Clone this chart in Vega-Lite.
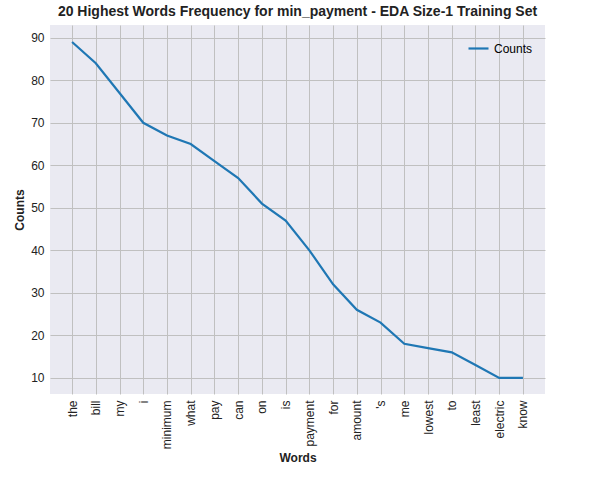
{"$schema":"https://vega.github.io/schema/vega-lite/v6.json","width":495,"height":369,"background":"white","padding":{"left":13,"top":5,"right":5,"bottom":5},
"title":{"text":"20 Highest Words Frequency for min_payment - EDA Size-1 Training Set","font":"Liberation Sans","fontSize":14,"fontWeight":"bold","color":"#222","offset":6},
"config":{"view":{"fill":"#eaeaf2","stroke":null},"axis":{"gridColor":"#c0c0c0","grid":true,"domain":false,"ticks":false,"labelFont":"Liberation Sans","labelFontSize":12,"labelColor":"#222","titleFont":"Liberation Sans","titleFontSize":12,"titleColor":"#222","titleFontWeight":"bold"}},
"data":{"values":[{"w":"the","c":89},{"w":"bill","c":84},{"w":"my","c":77},{"w":"i","c":70},{"w":"minimum","c":67},{"w":"what","c":65},{"w":"pay","c":61},{"w":"can","c":57},{"w":"on","c":51},{"w":"is","c":47},{"w":"payment","c":40},{"w":"for","c":32},{"w":"amount","c":26},{"w":"'s","c":23},{"w":"me","c":18},{"w":"lowest","c":17},{"w":"to","c":16},{"w":"least","c":13},{"w":"electric","c":10},{"w":"know","c":10}]},
"mark":{"type":"line","strokeWidth":2.2,"color":"#1f77b4"},
"encoding":{"x":{"field":"w","type":"ordinal","sort":null,"title":"Words","scale":{"type":"point","padding":0.93},"axis":{"labelAngle":-90,"labelPadding":6,"labelAlign":"right","labelBaseline":"middle"}},
"y":{"field":"c","type":"quantitative","title":"Counts","scale":{"domain":[6.2,93],"nice":false},"axis":{"values":[10,20,30,40,50,60,70,80,90],"labelPadding":6}},
"stroke":{"datum":"Counts","type":"nominal","scale":{"range":["#1f77b4"]},"legend":{"title":null,"orient":"top-right","offset":8,"padding":4,"labelFont":"Liberation Sans","labelFontSize":12,"symbolType":"stroke","symbolStrokeWidth":2.2,"symbolSize":400,"fillColor":null}}}}
